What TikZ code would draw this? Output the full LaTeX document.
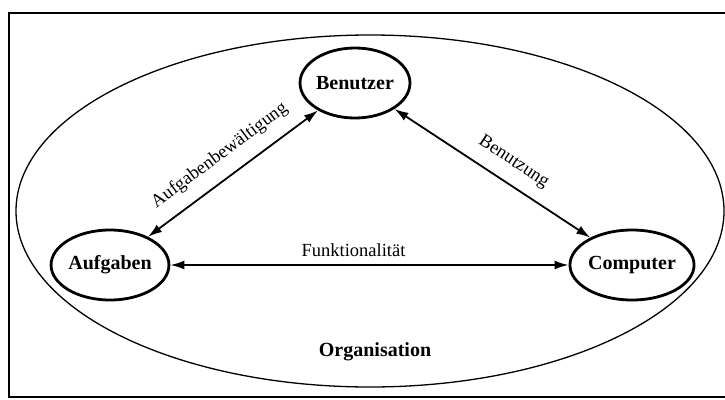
\documentclass[tikz,border=0pt]{standalone}
\usepackage{fontspec}
\setmainfont{Liberation Serif}
\usetikzlibrary{arrows.meta,shapes.geometric}
\begin{document}
\begin{tikzpicture}[x=1pt,y=-1pt,
  actor/.style={ellipse,draw,line width=2.8pt,minimum width=106pt,minimum height=70pt,
    inner sep=0pt,font=\fontsize{20}{23}\selectfont\bfseries},
  link/.style={line width=1.8pt,{Latex[length=14pt,width=9pt]}-{Latex[length=14pt,width=9pt]}},
  lbl/.style={font=\fontsize{18.5}{21}\selectfont,inner sep=2pt}]
\useasboundingbox (0,0) rectangle (725,399);
% outer frame (open on the right)
\draw[line width=1.4pt] (727,13) -- (9,13) -- (9,397) -- (727,397);
% organisation
\draw[line width=1.3pt] (370,211) ellipse [x radius=354, y radius=176];
\node[font=\fontsize{20}{23}\selectfont\bfseries] (org) at (375,352) {Organisation};
% actors
\node[actor] (benu) at (355,83) {Benutzer};
\node[actor] (aufg) at (110,265) {Aufgaben};
\node[actor] (comp) at (632,265) {Computer};
% relations
\draw[link] (aufg) -- (benu) node[lbl,pos=0.5,sloped,above=11pt] {Aufgabenbewältigung};
\draw[link] (benu) -- (comp) node[lbl,pos=0.55,sloped,above=10pt] {Benutzung};
\draw[link] (aufg) -- (comp) node[lbl,pos=0.46,above=5pt] {Funktionalität};
\end{tikzpicture}
\end{document}
